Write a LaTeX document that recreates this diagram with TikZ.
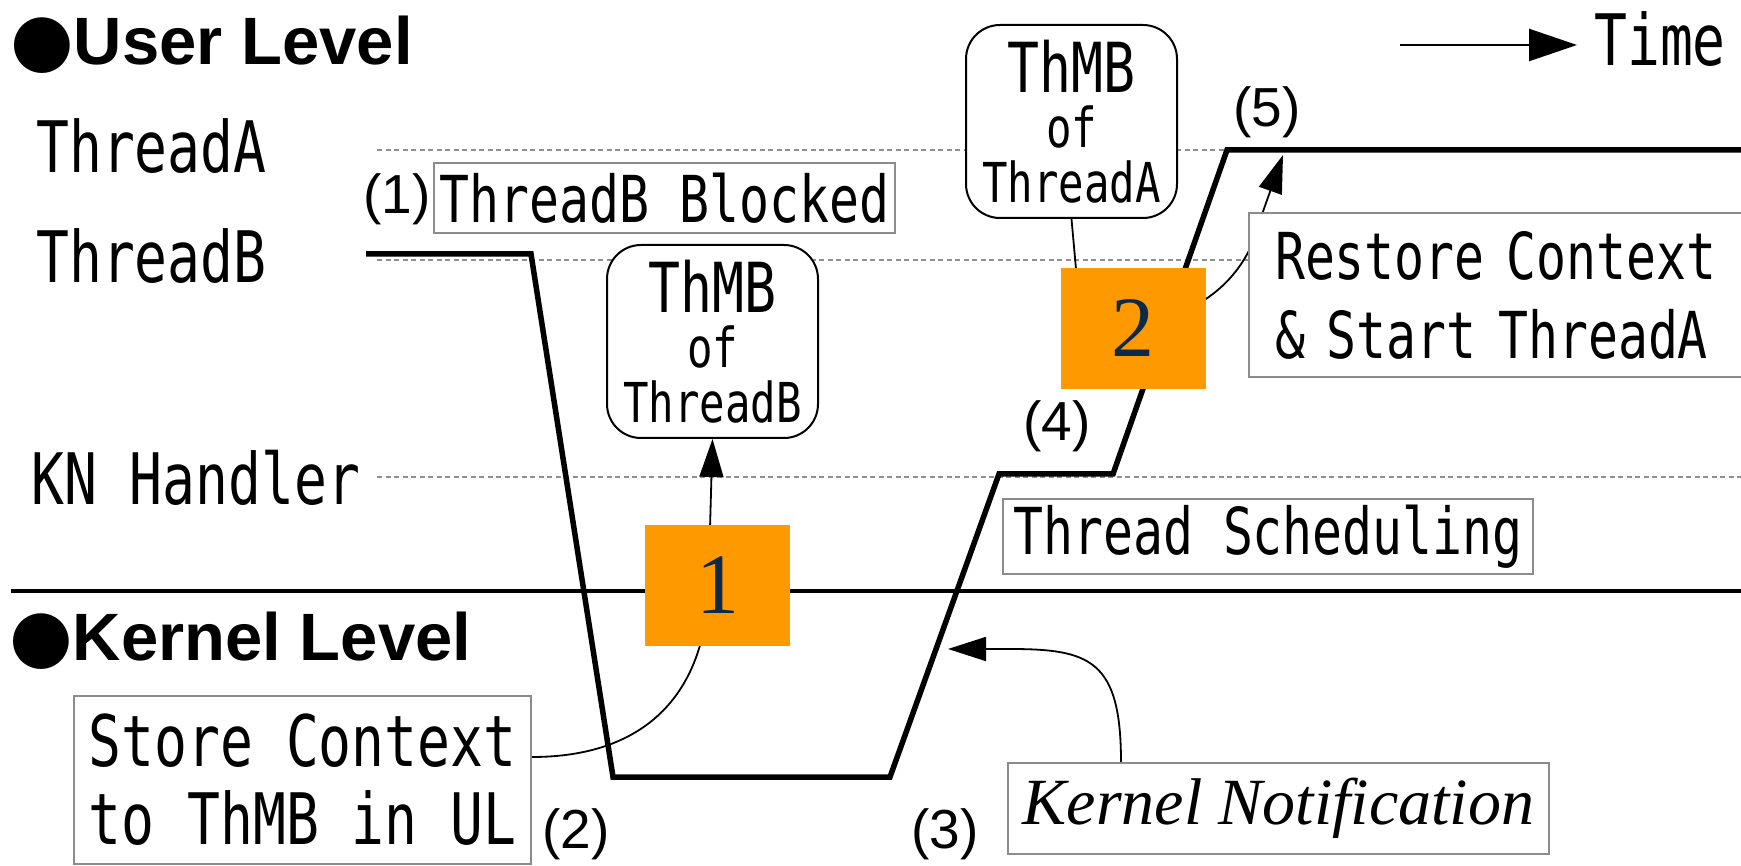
\documentclass[tikz,border=0pt]{standalone}
\usepackage{fontspec}
\setmainfont{Liberation Serif}
\newfontfamily\gothic[FakeStretch=0.77]{DejaVu Sans Mono}
\newfontfamily\headfont{Liberation Sans}
\newfontfamily\dotfont{DejaVu Sans}
\usetikzlibrary{arrows.meta}

\definecolor{markorange}{HTML}{FF9900}
\definecolor{marknavy}{HTML}{0B2A4A}
\definecolor{boxgray}{HTML}{8C8C8C}
\definecolor{guidegray}{HTML}{8F8F8F}

\pgfdeclarelayer{back}
\pgfdeclarelayer{front}
\pgfsetlayers{back,main,front}

\tikzset{
  level/.style={dash pattern=on 5pt off 3.5pt, line width=1.3pt, draw=guidegray},
  trace/.style={line width=5.5pt, line join=miter},
  sep/.style={line width=3.5pt},
  link/.style={line width=1.8pt, -{Triangle[length=38pt,width=24pt]}},
  lane/.style={anchor=base west, inner sep=0pt, font=\gothic\fontsize{71}{78}\selectfont},
  heading/.style={anchor=base west, inner sep=0pt, font=\headfont\bfseries\fontsize{67}{70}\selectfont},
  tag/.style={inner sep=0pt, font=\headfont\fontsize{55}{60}\selectfont},
  note/.style={draw=boxgray, line width=2pt, fill=white, inner sep=0pt,
    font=\gothic\fontsize{64.7}{79}\selectfont},
  thmb/.style={draw=black, line width=2pt, rounded corners=34pt, fill=white,
    minimum width=211pt, minimum height=193pt, inner sep=0pt, align=center,
    font=\gothic\fontsize{55}{55}\selectfont},
  marker/.style={fill=markorange, minimum width=145pt, minimum height=121pt,
    inner sep=0pt, text=marknavy, font=\fontsize{86}{86}\selectfont},
}

\begin{document}
\begin{tikzpicture}[x=1pt,y=-1pt]
\useasboundingbox (0,0) rectangle (1741,866);
\clip (0,0) rectangle (1741,866);

% level headings
\node[heading] (userlvl) at (10,65) {{\dotfont\fontsize{73}{73}\selectfont ●}User Level};
\node[heading] (kernlvl) at (9,660) {{\dotfont\fontsize{73}{73}\selectfont ●}Kernel Level};

% lane names
\node[lane] (laneA) at (36,173) {ThreadA};
\node[lane] (laneB) at (36,283) {ThreadB};
\node[lane] (laneK) at (31,504) {KN Handler};

% time direction
\node[lane] (time) at (1594,66) {Time};
\coordinate (tstart) at (1400,45);
\coordinate (tend) at ([xshift=-17pt]time.west);

% step numbers
\node[tag] (s1) at (397,199) {(1)};
\node[tag] (s2) at (576,834) {(2)};
\node[tag] (s3) at (945,834) {(3)};
\node[tag] (s4) at (1057,426) {(4)};
\node[tag] (s5) at (1267,112) {(5)};

% explanation boxes
\node[note, minimum width=461pt, minimum height=70pt] (blocked) at (664.5,198) {ThreadB Blocked};
\node[note, minimum width=457pt, minimum height=168pt, align=left,
      font=\gothic\fontsize{71}{78}\selectfont] (store) at (302.5,780) {Store Context\\to ThMB in UL};
\node[note, anchor=west, minimum height=164pt, text width=470pt, inner xsep=26pt,
      align=left] (restore) at (1248,295) {Restore Context\\\& Start ThreadA};
\node[note, minimum width=530pt, minimum height=75pt] (sched) at (1268,536.5) {Thread Scheduling};
\node[note, minimum width=541pt, minimum height=91pt,
      font=\itshape\fontsize{66}{70}\selectfont] (kn) at (1278.5,808.5) {Kernel Notification};

% thread management blocks
\node[thmb] (thmbB) at (712.5,341.5) {{\fontsize{69}{55}\selectfont ThMB}\\of\\ThreadB};
\node[thmb] (thmbA) at (1071.5,121.5) {{\fontsize{69}{55}\selectfont ThMB}\\of\\ThreadA};

% numbered markers
\begin{pgfonlayer}{front}
\node[marker] (m1) at (717.5,585) {1};
\node[marker] (m2) at (1133,328.5) {2};
\end{pgfonlayer}

\begin{pgfonlayer}{back}
% dotted level guides
\draw[level] (377,150) -- (1741,150);
\draw[level] (377,260) -- (1741,260);
\draw[level] (377,477) -- (1741,477);
% user / kernel boundary
\draw[sep] (11,591) -- (1741,591);
% execution trace
\draw[trace] (366,254) -- (531,254) -- (613,777) -- (890,777) -- (999,474)
  -- (1113,474) -- (1227,150) -- (1741,150);
% time arrow
\draw[line width=2.5pt, -{Triangle[length=48pt,width=32pt]}] (tstart) -- (tstart -| tend);
% connectors
\coordinate (tip5) at (1283,155);
\coordinate (kntip) at (948,649);
\draw[link] ([yshift=23pt]store.east) .. controls (640,757) and (700,700) .. (708,600)
  -- (thmbB.south);
\draw[link] (thmbA.south) -- (1077,280) .. controls (1090,350) and (1235,330) .. (1260,220)
  -- (tip5);
\draw[link] ([xshift=-157.5pt]kn.north) .. controls (1121,660) and (1090,649) .. (1010,649)
  -- (kntip);
\end{pgfonlayer}
\end{tikzpicture}
\end{document}
